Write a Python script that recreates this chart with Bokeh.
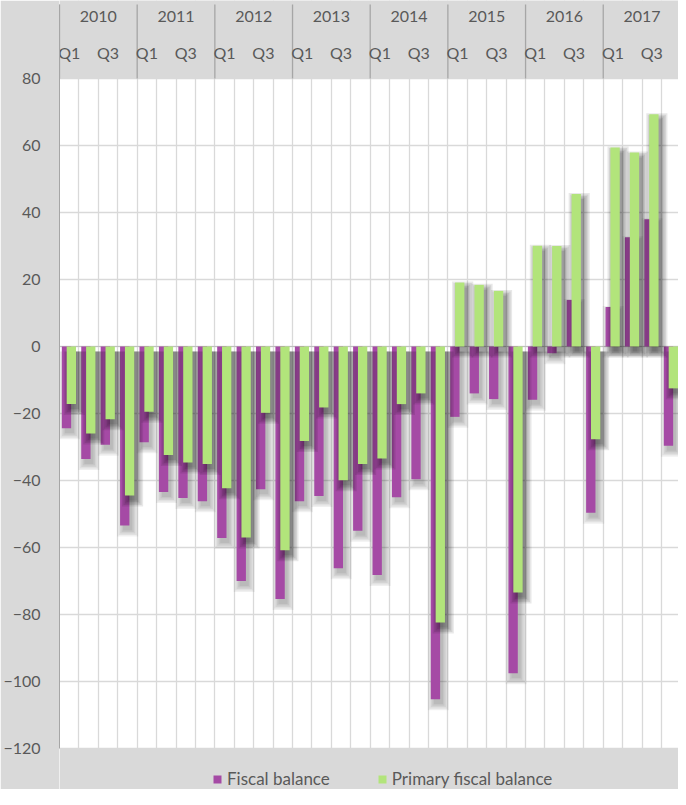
from bokeh.plotting import figure
from bokeh.models import Range1d, FixedTicker, Span, Legend, LegendItem, ColumnDataSource
from bokeh.core.properties import value
from bokeh.embed import file_html
from bokeh.resources import INLINE

years = ["2010", "2011", "2012", "2013", "2014", "2015", "2016", "2017"]
quarters = ["Q1", "Q2", "Q3", "Q4"]
shown_quarters = ["Q1", "Q3"]
y_ticks = [-120, -100, -80, -60, -40, -20, 0, 20, 40, 60, 80]

fiscal_balance = [-24.4, -33.6, -29.3, -53.4, -28.6, -43.4, -45.2, -46.2,
                  -57.2, -70.0, -42.6, -75.4, -46.2, -44.6, -66.2, -55.0,
                  -68.2, -45.0, -39.6, -105.3, -21.0, -14.0, -15.7, -97.5,
                  -15.9, -2.0, 13.9, -49.6, 11.8, 32.6, 38.0, -29.6]
primary_fiscal_balance = [-17.2, -26.0, -21.7, -44.5, -19.5, -32.4, -34.6, -35.1,
                          -42.3, -57.0, -19.8, -60.8, -28.2, -18.2, -39.9, -35.1,
                          -33.4, -17.2, -14.0, -82.4, 19.1, 18.4, 16.6, -73.4,
                          30.1, 30.0, 45.5, -27.7, 59.4, 57.9, 69.3, -12.5]

FONT = "Lato"
TXT = "#595959"
BG = "#d9d9d9"
PURPLE = "#a54aa5"
GREEN = "#b2e47b"

n = len(fiscal_balance)
YMIN, YMAX = y_ticks[0], y_ticks[-1]
BAR_W = 0.48
OFF_F = 0.36
OFF_G = 0.61
PX_X = 19.67   # px per category
PX_Y = 3.35    # px per unit

# frame covers page y 8..797 ; value area page y 86..756
top_val = YMAX + 78 / PX_Y
bot_val = YMIN - 41 / PX_Y
sep_top = YMAX + 74 / PX_Y
year_y = YMAX + 62 / PX_Y
quarter_y = YMAX + 26 / PX_Y

p = figure(width=678, height=789,
           x_range=Range1d(0, 627 / PX_X), y_range=Range1d(bot_val, top_val),
           x_axis_location="above", output_backend="svg", toolbar_location=None,
           min_border_left=51, min_border_right=0, min_border_top=0, min_border_bottom=0)
p.border_fill_color = BG
p.background_fill_color = "white"
p.outline_line_color = None
p.xaxis.visible = False

vax = p.yaxis[0]
vax.ticker = FixedTicker(ticks=y_ticks)
vax.bounds = (YMIN, sep_top)
vax.axis_line_color = "#a6a6a6"
vax.major_tick_line_color = None
vax.minor_tick_line_color = None
vax.major_tick_out = 0
vax.major_tick_in = 0
vax.major_label_standoff = 19
vax.major_label_text_font = FONT
vax.major_label_text_font_size = "16px"
vax.major_label_text_color = TXT

p.xgrid.ticker = FixedTicker(ticks=list(range(n + 1)))
p.xgrid.grid_line_color = "#d9d9d9"
p.ygrid.grid_line_color = "#d9d9d9"
p.xgrid.grid_line_width = 1.3
p.ygrid.grid_line_width = 1.3

p.add_layout(Span(location=0, dimension="width", line_color="#bfbfbf", line_width=1, level="underlay"))

# grey header / footer bands
p.quad(left=[0, 0], right=[n, n], bottom=[YMAX, bot_val - 10], top=[top_val + 10, YMIN],
       fill_color=BG, line_color=None)

# header: year separators and labels
bounds = [4 * k for k in range(len(years) + 1)]
p.segment(x0=bounds, y0=[YMAX] * len(bounds), x1=bounds, y1=[sep_top] * len(bounds),
          line_color="#a6a6a6", line_width=1.3)
p.text(x=[4 * k + 2 for k in range(len(years))], y=[year_y] * len(years), text=years,
       text_align="center", text_baseline="middle", text_font=value(FONT),
       text_font_size="16px", text_color=TXT)
q_idx = [i for i in range(n) if quarters[i % 4] in shown_quarters]
p.text(x=[i + 0.5 for i in q_idx], y=[quarter_y] * len(q_idx), text=[quarters[i % 4] for i in q_idx],
       text_align="center", text_baseline="middle", text_font=value(FONT),
       text_font_size="16px", text_color=TXT)


def shadow_layers(values, offset):
    d = 5 / PX_Y
    dx = 3 / PX_X
    layers = []
    for s in [0.0, 1.5, 3.0, 4.5, 6.0]:
        layers.append(dict(
            x=[i + offset + dx for i in range(n)],
            top=[max(0, v) - d + (s / PX_Y if v > 0 else 0) for v in values],
            bottom=[min(0, v) - d - s / PX_Y for v in values],
            w=[BAR_W + 2 * s / PX_X] * n,
        ))
    return layers


def draw(values, offset, color, alpha):
    for lay in shadow_layers(values, offset):
        p.vbar(x="x", top="top", bottom="bottom", width="w", source=ColumnDataSource(lay),
               fill_color="black", fill_alpha=alpha, line_color=None)
    src = ColumnDataSource(dict(x=[i + offset for i in range(n)], v=values))
    return p.vbar(x="x", top="v", bottom=0, width=BAR_W, source=src,
                  fill_color=color, line_color=None)


r_f = draw(fiscal_balance, OFF_F, PURPLE, 0.06)
r_g = draw(primary_fiscal_balance, OFF_G, GREEN, 0.09)

legend = Legend(items=[LegendItem(label="Fiscal balance", renderers=[r_f]),
                       LegendItem(label="Primary fiscal balance", renderers=[r_g])],
                orientation="horizontal", location=(153, 0),
                background_fill_alpha=0, border_line_color=None,
                glyph_width=10, glyph_height=10, label_standoff=5, spacing=47,
                padding=0, margin=0, label_height=14,
                label_text_font=FONT, label_text_font_size="17px", label_text_color=TXT)
p.add_layout(legend, "center")

open("out.html", "w").write(file_html(p, INLINE))
